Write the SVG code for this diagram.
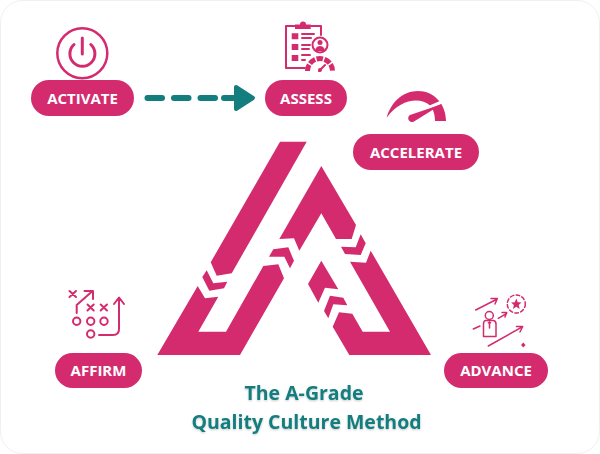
<svg xmlns="http://www.w3.org/2000/svg" width="600" height="454" viewBox="0 0 600 454">
<style>
.pill{fill:#d42b6f}
.lab{font:700 15px "Open Sans","Liberation Sans",sans-serif;fill:#fff;text-anchor:middle}
.title{font:700 19.5px "Open Sans","Liberation Sans",sans-serif;fill:#147d7e;text-anchor:middle;filter:url(#ts)}
.s{fill:none;stroke:#d42b6f;stroke-width:2;stroke-linecap:round;stroke-linejoin:round}
.f{fill:#d42b6f}
</style>
<defs><filter id="ts" x="-10%" y="-30%" width="120%" height="170%"><feDropShadow dx="0" dy="1" stdDeviation="1.2" flood-color="#000" flood-opacity=".22"/></filter></defs>
<rect x="0.5" y="0.5" width="599" height="453" rx="22" fill="#fff" stroke="#f0f0f0"/>
<g id="logo" class="f">
<polygon points="280,141.7 306.7,141.7 231.7,273.3 216.7,275.7 210.7,262.3"/>
<polygon points="206.7,270.3 213.3,283.3 227.3,281.7 224,288.3 209.3,290.7 202.3,277"/>
<polygon points="197.7,286 205,298.3 218.3,296.7 198.3,331.7 226,331.7 263.3,266 278.3,264.3 284,278.3 240,355 157.3,355"/>
<polygon points="273.3,249.3 288.3,247.3 294,260.7 290,268.3 284.3,256.7 269,256.7"/>
<polygon points="321.3,166 356,225 351.7,239 336,239 321.3,213.3 299.3,250.7 294,238.3 279.3,239"/>
<polygon points="360.7,234.3 365.7,243.3 360.7,255 345,254 341,246.7 355.7,247.3"/>
<polygon points="370.7,250.7 431,355 349.3,355 332.7,326.7 339,312.3 352.3,313.7 362.7,331.7 390,331.7 350,261.7 366,262.7"/>
<polygon points="321.3,260.7 338.3,289.3 325,287.7 318.3,302.7 308,284"/>
<polygon points="330,295.7 343.3,297.7 347.3,305.3 333.3,304.3 328.3,318.3 324,311"/>
</g>
<g id="connectors">
<path d="M147.500 98H224" fill="none" stroke="#147d7e" stroke-width="6" stroke-linecap="round" stroke-dasharray="14.500 12"/>
<path d="M224 98H237" stroke="#147d7e" stroke-width="6" stroke-linecap="round"/>
<path d="M236 87 253 98 236 109Z" fill="#147d7e" stroke="#147d7e" stroke-width="4" stroke-linejoin="round"/>
</g>
<g id="activate">
<circle cx="82.300" cy="53.300" r="25" fill="none" stroke="#d42b6f" stroke-width="2.500"/>
<path d="M74 44.500A12.500 12.500 0 1 0 90.800 44.500M82.300 38V54" fill="none" stroke="#d42b6f" stroke-width="3" stroke-linecap="round"/>
<rect class="pill" x="31" y="80" width="103" height="36" rx="18"/>
<text class="lab" x="82.500" y="103.500">ACTIVATE</text>
</g>
<g id="assess">
<path class="s" d="M295 26H286V68H305M311 26H321V35" />
<path class="f" d="M295 29V24.500H300A3 3 0 0 1 306 24.500H310.700V29Z"/>
<path class="f" d="M291.700 33.300h6.600v6h-6.600zM291.700 44h6.600v6h-6.600zM291.700 55h6.600v6h-6.600z"/>
<path class="s" d="M302 34H314M302 38H311M302 45H310M302 49H309M302 55H310M302 60H305"/>
<circle cx="320" cy="45" r="7.500" fill="#fff" stroke="#d42b6f" stroke-width="2"/>
<circle class="f" cx="320" cy="42.500" r="2.500"/>
<path class="f" d="M315 51a5 5 0 0 1 10 0z"/>
<path d="M307.500 71A12.500 12.500 0 0 1 332.500 71" fill="none" stroke="#d42b6f" stroke-width="5" stroke-dasharray="6.500 1.500"/>
<path d="M319 71 325 65" stroke="#d42b6f" stroke-width="2" stroke-linecap="round"/>
<circle class="f" cx="320" cy="70" r="2"/>
<rect class="pill" x="265" y="80" width="82" height="36" rx="18"/>
<text class="lab" x="306" y="103.500">ASSESS</text>
</g>
<g id="accelerate">
<path class="f" d="M386.700 117.700C391 102 403 91 418 91C434 91 446 104 446 121H435C435 114 433 109 430 105.500C420 96.500 400 99 386.700 117.700Z"/>
<path d="M416 113 444 101" stroke="#fff" stroke-width="3" fill="none"/>
<path class="f" d="M411.500 114.500 441.700 104.300 414 121.500A3.800 3.800 0 1 1 411.500 114.500Z"/>
<rect class="pill" x="353" y="134" width="126" height="36" rx="18"/>
<text class="lab" x="416" y="157.500">ACCELERATE</text>
</g>
<g id="affirm">
<path class="s" d="M69.500 291 76 297M76 291 69.500 297M87.500 304.500 93.700 310.500M93.700 304.500 87.500 310.500M100.700 304.500 107 310.500M107 304.500 100.700 310.500M76.700 313V305L92 291.500M84.500 291H93V299M99 335H113Q119 335 119 329V298M114 304 119 297.500 124 304"/>
<circle class="s" cx="76.700" cy="321.300" r="3.700"/><circle class="s" cx="90.700" cy="321.300" r="3.700"/><circle class="s" cx="104" cy="321.300" r="3.700"/><circle class="s" cx="90.700" cy="334" r="3.700"/>
<rect class="pill" x="55" y="353" width="87" height="35" rx="17.500"/>
<text class="lab" x="98.500" y="376">AFFIRM</text>
</g>
<g id="advance">
<path class="s" style="stroke-width:1.500" d="M475.700 310 497.300 299M491 298.500H497.300L495 304M498.300 318.300 506.700 313.300M502 312.500H506.700L505 317M473.300 329 480 326M488.300 346 522.700 326.700M516.500 326.500H522.700L520 332"/>
<circle class="s" style="stroke-width:1.500" cx="516.300" cy="304" r="9" stroke-dasharray="3.500 2.500"/>
<polygon class="f" points="516.300,298.500 517.800,302.300 521.500,302.500 518.700,305 519.700,309 516.300,306.800 512.900,309 513.900,305 511.100,302.500 514.800,302.300"/>
<circle class="s" style="stroke-width:1.500" cx="489.300" cy="315.500" r="4"/>
<path class="s" style="stroke-width:1.500" d="M485.500 320.500H493.500Q496 321 496 324V336.500H483.500V324Q483.500 321 485.500 320.500ZM489.500 322V328"/>
<path class="f" d="M487.500 322h4l-2 3z"/>
<path class="f" d="M523.300 342.500 525.500 345 523.300 347.500 521 345Z"/>
<rect class="pill" x="444" y="353" width="104" height="35" rx="17.500"/>
<text class="lab" x="496" y="376">ADVANCE</text>
</g>
<g id="title">
<text class="title" x="304" y="400">The A-Grade</text>
<text class="title" x="306.500" y="429">Quality Culture Method</text>
</g>
</svg>
